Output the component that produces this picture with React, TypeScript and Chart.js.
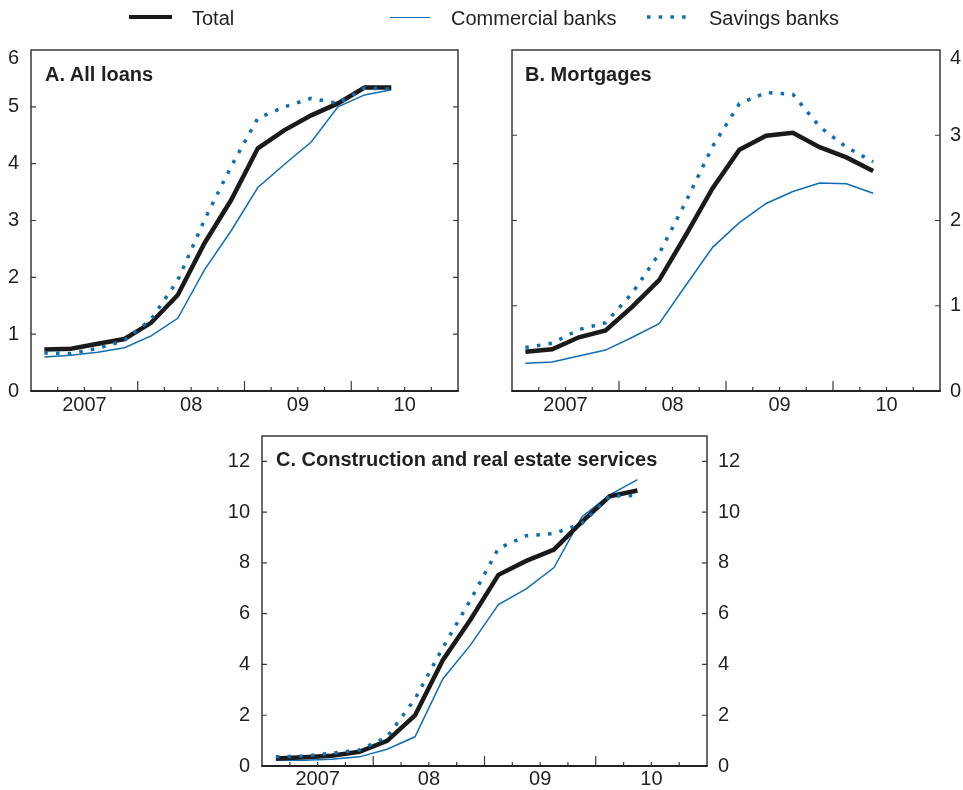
import React, { useEffect, useRef } from 'react';
import { Chart, registerables } from 'chart.js';

Chart.register(...registerables);

const FONT = "'Liberation Sans', Arial, Helvetica, sans-serif";
const INK = '#231f20';
const BLACK = '#1a1a1a';
const BLUE = '#0f6db4';

// Quarterly observations, 2007 Q1 – 2010 Q2
const quarters = [
  '2007 Q1', '2007 Q2', '2007 Q3', '2007 Q4',
  '2008 Q1', '2008 Q2', '2008 Q3', '2008 Q4',
  '2009 Q1', '2009 Q2', '2009 Q3', '2009 Q4',
  '2010 Q1', '2010 Q2',
];
const yearLabels = ['2007', '08', '09', '10'];

// A. All loans
const allTotal = [0.73, 0.745, 0.83, 0.915, 1.2, 1.69, 2.6, 3.36, 4.27, 4.59, 4.85, 5.06, 5.34, 5.34];
const allCommercial = [0.6, 0.63, 0.68, 0.76, 0.97, 1.28, 2.13, 2.82, 3.58, 3.99, 4.38, 5.0, 5.21, 5.3];
const allSavings = [0.67, 0.66, 0.75, 0.89, 1.26, 1.95, 3.01, 3.95, 4.8, 5.0, 5.15, 5.06, 5.33, 5.31];
const ticksA = [0, 1, 2, 3, 4, 5, 6];

// B. Mortgages
const mortTotal = [0.46, 0.49, 0.63, 0.71, 0.99, 1.3, 1.83, 2.38, 2.83, 2.995, 3.03, 2.86, 2.74, 2.58];
const mortCommercial = [0.325, 0.34, 0.41, 0.48, 0.63, 0.79, 1.24, 1.685, 1.975, 2.2, 2.34, 2.44, 2.43, 2.32];
const mortSavings = [0.51, 0.56, 0.72, 0.8, 1.15, 1.61, 2.22, 2.87, 3.37, 3.5, 3.48, 3.1, 2.86, 2.69];
const ticksB = [0, 1, 2, 3, 4];

// C. Construction and real estate services
const consTotal = [0.3, 0.34, 0.4, 0.56, 0.99, 1.99, 4.17, 5.77, 7.53, 8.08, 8.53, 9.62, 10.62, 10.85];
const consCommercial = [0.23, 0.23, 0.27, 0.36, 0.66, 1.15, 3.43, 4.77, 6.36, 6.98, 7.82, 9.81, 10.68, 11.28];
const consSavings = [0.36, 0.39, 0.5, 0.63, 1.15, 2.64, 4.66, 6.55, 8.57, 9.07, 9.16, 9.55, 10.63, 10.66];
const ticksC = [0, 2, 4, 6, 8, 10, 12];

type Spec = {
  total: number[];
  commercial: number[];
  savings: number[];
  yTicks: number[];
  yMax: number;
  side: 'left' | 'right' | 'both';
  area: { left: number; top: number; right: number; bottom: number };
  yW: number;
  y2W: number;
  yPad: number;
  y2Pad: number;
  xH: number;
  xPad: number;
};

const W = 963;
const H = 790;

const framePlugin = {
  id: 'frame',
  afterDraw(chart: any) {
    const { ctx, chartArea } = chart;
    const { left, right, top, bottom } = chartArea;
    const xs = chart.scales.x;
    const ys = chart.scales.y;
    ctx.save();
    ctx.strokeStyle = '#3a3a3a';
    ctx.lineWidth = 1.5;
    ctx.beginPath();
    ctx.moveTo(left, bottom);
    ctx.lineTo(left, top);
    ctx.lineTo(right, top);
    ctx.lineTo(right, bottom);
    ctx.stroke();
    // y tick marks (inward, both sides)
    ctx.lineWidth = 1.2;
    ctx.beginPath();
    ys.ticks.forEach((t: any) => {
      if (t.value <= ys.min || t.value >= ys.max) return;
      const py = ys.getPixelForValue(t.value);
      ctx.moveTo(left, py);
      ctx.lineTo(left + 5, py);
      ctx.moveTo(right, py);
      ctx.lineTo(right - 5, py);
    });
    // x tick marks: quarters minor, years major
    for (let q = 1; q < xs.max; q++) {
      const px = xs.getPixelForValue(q);
      const len = q % 4 === 0 ? 10 : 4;
      ctx.moveTo(px, bottom);
      ctx.lineTo(px, bottom - len);
    }
    ctx.stroke();
    // bottom axis
    ctx.strokeStyle = '#222';
    ctx.lineWidth = 2;
    ctx.beginPath();
    ctx.moveTo(left - 0.75, bottom);
    ctx.lineTo(right + 0.75, bottom);
    ctx.stroke();
    ctx.restore();
  },
};

function buildConfig(p: Spec): any {
  const pts = (arr: number[]) => arr.map((v, i) => ({ x: quarters.indexOf(quarters[i]) + 0.5, y: v }));
  const tickFont = (c: any) => ({
    family: FONT,
    size: 20,
    lineHeight: c && c.tick && c.tick.value === p.yMax ? 0.8 : 1.2,
  });
  const tickCb = (v: any) => (v === p.yMax ? ['', String(v)] : String(v));
  const yScale = (position: string, width: number, padding: number, display: boolean) => ({
    type: 'linear',
    position,
    display,
    min: 0,
    max: p.yMax,
    afterBuildTicks: (s: any) => {
      s.ticks = p.yTicks.map((v) => ({ value: v }));
    },
    afterFit: (s: any) => {
      s.width = width;
    },
    grid: { display: false, drawTicks: false },
    border: { display: false },
    ticks: { padding, color: INK, font: tickFont, callback: tickCb, autoSkip: false },
  });

  const scales: any = {
    x: {
      type: 'linear',
      min: 0,
      max: 16,
      afterBuildTicks: (s: any) => {
        s.ticks = yearLabels.map((_, i) => ({ value: i * 4 + 2 }));
      },
      afterFit: (s: any) => {
        s.height = p.xH;
      },
      grid: { display: false, drawTicks: false },
      border: { display: false },
      ticks: {
        padding: p.xPad,
        autoSkip: false,
        maxRotation: 0,
        color: INK,
        font: { family: FONT, size: 20 },
        callback: (_v: any, i: number) => yearLabels[i],
      },
    },
  };
  if (p.side === 'left') {
    scales.y = yScale('left', p.yW, p.yPad, true);
  } else if (p.side === 'right') {
    scales.y = yScale('right', p.y2W, p.y2Pad, true);
  } else {
    scales.y = yScale('left', p.yW, p.yPad, true);
    scales.y2 = yScale('right', p.y2W, p.y2Pad, true);
  }

  const padLeft = p.side === 'right' ? p.area.left : p.area.left - p.yW;
  const padRight = p.side === 'left' ? W - p.area.right : W - p.area.right - p.y2W;

  return {
    type: 'line',
    data: {
      datasets: [
        {
          label: 'Savings banks',
          data: pts(p.savings),
          borderColor: BLUE,
          borderWidth: 3.5,
          borderDash: [3.5, 8.2],
          borderCapStyle: 'butt',
          pointRadius: 0,
          tension: 0,
          yAxisID: 'y',
        },
        {
          label: 'Total',
          data: pts(p.total),
          borderColor: BLACK,
          borderWidth: 4.5,
          pointRadius: 0,
          tension: 0,
          yAxisID: 'y',
        },
        {
          label: 'Commercial banks',
          data: pts(p.commercial),
          borderColor: BLUE,
          borderWidth: 1.5,
          pointRadius: 0,
          tension: 0,
          yAxisID: 'y',
        },
      ],
    },
    options: {
      responsive: false,
      animation: false,
      devicePixelRatio: 1,
      layout: {
        padding: {
          left: padLeft,
          right: padRight,
          top: p.area.top,
          bottom: H - p.area.bottom - p.xH,
        },
      },
      plugins: { legend: { display: false }, tooltip: { enabled: false } },
      scales,
    },
    plugins: [framePlugin],
  };
}

const specA: Spec = {
  total: allTotal,
  commercial: allCommercial,
  savings: allSavings,
  yTicks: ticksA,
  yMax: 6,
  side: 'left',
  area: { left: 31, top: 50, right: 458, bottom: 391 },
  yW: 31,
  y2W: 0,
  yPad: 12,
  y2Pad: 0,
  xH: 30,
  xPad: 2,
};

const specB: Spec = {
  total: mortTotal,
  commercial: mortCommercial,
  savings: mortSavings,
  yTicks: ticksB,
  yMax: 4,
  side: 'right',
  area: { left: 512, top: 50, right: 940, bottom: 391 },
  yW: 0,
  y2W: 23,
  yPad: 0,
  y2Pad: 10,
  xH: 30,
  xPad: 2,
};

const specC: Spec = {
  total: consTotal,
  commercial: consCommercial,
  savings: consSavings,
  yTicks: ticksC,
  yMax: 13,
  side: 'both',
  area: { left: 262, top: 436, right: 707, bottom: 769 },
  yW: 62,
  y2W: 53,
  yPad: 12,
  y2Pad: 11,
  xH: 21,
  xPad: 1,
};

function Panel({ spec }: { spec: Spec }) {
  const ref = useRef<HTMLCanvasElement>(null);
  useEffect(() => {
    const chart = new Chart(ref.current as HTMLCanvasElement, buildConfig(spec));
    return () => chart.destroy();
  }, [spec]);
  return (
    <canvas
      ref={ref}
      width={W}
      height={H}
      style={{ position: 'absolute', left: 0, top: 0, width: W, height: H }}
    />
  );
}

const textStyle: React.CSSProperties = {
  position: 'absolute',
  fontFamily: FONT,
  fontSize: 20,
  lineHeight: '20px',
  color: INK,
  whiteSpace: 'nowrap',
  zIndex: 2,
};

export default function App() {
  return (
    <div style={{ position: 'absolute', left: 0, top: 0, width: W, height: H, background: '#fff', overflow: 'hidden' }}>
      <Panel spec={specA} />
      <Panel spec={specB} />
      <Panel spec={specC} />

      {/* Legend */}
      <div style={{ position: 'absolute', left: 129, top: 15, width: 43, height: 4, background: BLACK, zIndex: 2 }} />
      <div style={{ ...textStyle, left: 192, top: 8 }}>Total</div>
      <div style={{ position: 'absolute', left: 390, top: 16.5, width: 40, height: 1.5, background: BLUE, zIndex: 2 }} />
      <div style={{ ...textStyle, left: 451, top: 8 }}>Commercial banks</div>
      <svg style={{ position: 'absolute', left: 645, top: 12, zIndex: 2 }} width={46} height={10}>
        <line x1={2} y1={5} x2={44} y2={5} stroke={BLUE} strokeWidth={3.5} strokeDasharray="3.5 8.2" />
      </svg>
      <div style={{ ...textStyle, left: 709, top: 8 }}>Savings banks</div>

      {/* Panel titles */}
      <div style={{ ...textStyle, fontWeight: 'bold', left: 45, top: 64 }}>A. All loans</div>
      <div style={{ ...textStyle, fontWeight: 'bold', left: 525, top: 64 }}>B. Mortgages</div>
      <div style={{ ...textStyle, fontWeight: 'bold', left: 276, top: 449 }}>C. Construction and real estate services</div>
    </div>
  );
}
